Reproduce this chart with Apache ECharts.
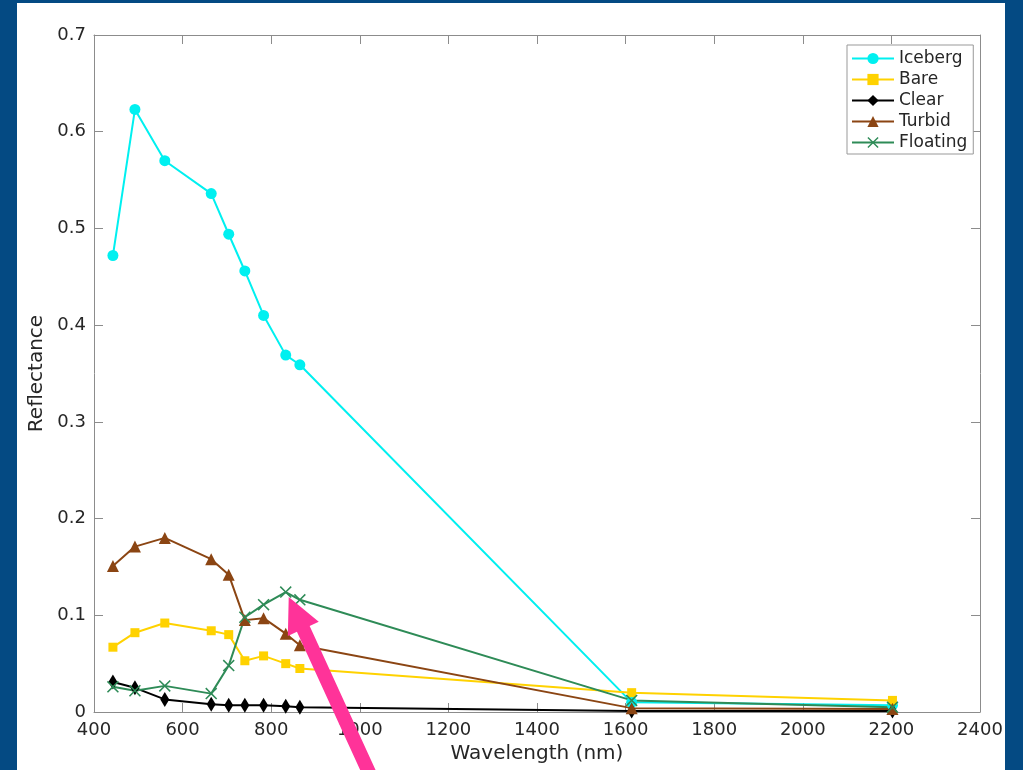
<!DOCTYPE html>
<html>
<head>
<meta charset="utf-8">
<script src="https://cdn.jsdelivr.net/npm/echarts@6/dist/echarts.min.js"></script>
<style>
html,body{margin:0;padding:0;background:#044a83;}
#main{width:1023px;height:770px;}
</style>
</head>
<body>
<div id="main"></div>
<script>
// Wavelengths (nm), Sentinel-2 band centres
const wavelengths = [442.7, 492.4, 559.8, 664.6, 704.1, 740.5, 782.8, 832.8, 864.7, 1613.7, 2202.4];
const iceberg  = [0.472, 0.623, 0.570, 0.536, 0.494, 0.456, 0.410, 0.369, 0.359, 0.010, 0.007];
const bare     = [0.067, 0.082, 0.092, 0.084, 0.080, 0.053, 0.058, 0.050, 0.045, 0.020, 0.012];
const clear    = [0.031, 0.025, 0.013, 0.008, 0.007, 0.007, 0.007, 0.006, 0.005, 0.001, 0.001];
const turbid   = [0.151, 0.171, 0.180, 0.158, 0.142, 0.095, 0.097, 0.081, 0.069, 0.004, 0.003];
const floating = [0.026, 0.022, 0.027, 0.019, 0.048, 0.098, 0.111, 0.124, 0.116, 0.012, 0.005];
const seriesNames = ['Iceberg', 'Bare', 'Clear', 'Turbid', 'Floating'];
const xTicks = [400, 600, 800, 1000, 1200, 1400, 1600, 1800, 2000, 2200, 2400];
const yTicks = [0, 0.1, 0.2, 0.3, 0.4, 0.5, 0.6, 0.7];

const FONT = 'DejaVu Sans';
const TXT = '#262626';
const AX = '#8c8c8c';
const xSym = 'path://M0,9L9,0L50,41L91,0L100,9L59,50L100,91L91,100L50,59L9,100L0,91L41,50Z';

function pairs(vals){ return wavelengths.map((w,i)=>[w, vals[i]]); }

const chart = echarts.init(document.getElementById('main'));

function mkSeries(name, vals, color, symbol, size){
  return {
    name, type:'line', data: pairs(vals), xAxisIndex:0, yAxisIndex:0,
    symbol, symbolSize: size, showAllSymbol:true,
    lineStyle:{color, width:2}, itemStyle:{color},
    emphasis:{disabled:true}, animation:false, clip:false
  };
}

const xCommon = {
  type:'value', min:xTicks[0], max:xTicks[xTicks.length-1], interval:200,
  axisLine:{show:true, onZero:false, lineStyle:{color:AX, width:1}},
  axisTick:{show:true, inside:true, length:9, lineStyle:{color:AX}},
  splitLine:{show:false}
};
const yCommon = {
  type:'value', min:yTicks[0], max:yTicks[yTicks.length-1], interval:0.1,
  axisLine:{show:true, onZero:false, lineStyle:{color:AX, width:1}},
  axisTick:{show:true, inside:true, length:9, lineStyle:{color:AX}},
  splitLine:{show:false}
};

const option = {
  backgroundColor:'#044a83',
  animation:false,
  textStyle:{fontFamily:FONT},
  grid:{left:94, right:43, top:35, bottom:58, containLabel:false},
  legend:{
    orient:'vertical', left:847, top:45,
    data: seriesNames,
    backgroundColor:'#fff', borderColor:'#999', borderWidth:1,
    padding:[5,6,3,4], itemGap:4, itemWidth:42, itemHeight:14,
    textStyle:{fontFamily:FONT, fontSize:17, color:TXT, lineHeight:17},
    selectedMode:false
  },
  xAxis:[
    Object.assign({}, xCommon, {
      position:'bottom',
      name:'Wavelength (nm)', nameLocation:'middle', nameGap:31,
      nameTextStyle:{fontFamily:FONT, fontSize:20, color:TXT},
      axisLabel:{show:true, margin:9, fontFamily:FONT, fontSize:18, color:TXT,
        formatter:v=>String(v)}
    }),
    Object.assign({}, xCommon, {position:'top', axisLabel:{show:false}})
  ],
  yAxis:[
    Object.assign({}, yCommon, {
      position:'left',
      name:'Reflectance', nameLocation:'middle', nameGap:42,
      nameTextStyle:{fontFamily:FONT, fontSize:20, color:TXT},
      axisLabel:{show:true, margin:8, fontFamily:FONT, fontSize:18, color:TXT,
        formatter:v=>(Math.round(v*10)/10).toString()}
    }),
    Object.assign({}, yCommon, {position:'right', axisLabel:{show:false}})
  ],
  graphic:[{
    type:'rect', z:-100, silent:true,
    shape:{x:17, y:3, width:988, height:767},
    style:{fill:'#ffffff'}
  }],
  series:[
    mkSeries('Iceberg', iceberg, '#00f0f0', 'circle', 11),
    mkSeries('Bare', bare, '#ffd200', 'rect', 9),
    mkSeries('Clear', clear, '#000000', 'diamond', [9,15]),
    mkSeries('Turbid', turbid, '#8b4513', 'triangle', 12),
    mkSeries('Floating', floating, '#2e8b57', xSym, 12)
  ]
};
chart.setOption(option);

// Annotation arrow pointing at the Floating peak
const pk = chart.convertToPixel({gridIndex:0}, [wavelengths[7], floating[7]]);
const tip = [pk[0]+3, pk[1]+5];
const d = [0.416, 0.909], p = [0.909, -0.416];
const headLen = 35, headHalf = 17, shaftHalf = 7, shaftLen = 260;
const base = [tip[0]+d[0]*headLen, tip[1]+d[1]*headLen];
const end = [tip[0]+d[0]*shaftLen, tip[1]+d[1]*shaftLen];
const pts = [
  tip,
  [base[0]+p[0]*headHalf, base[1]+p[1]*headHalf],
  [base[0]+p[0]*shaftHalf, base[1]+p[1]*shaftHalf],
  [end[0]+p[0]*shaftHalf, end[1]+p[1]*shaftHalf],
  [end[0]-p[0]*shaftHalf, end[1]-p[1]*shaftHalf],
  [base[0]-p[0]*shaftHalf, base[1]-p[1]*shaftHalf],
  [base[0]-p[0]*headHalf, base[1]-p[1]*headHalf]
];
chart.setOption({graphic:[
  {type:'rect', z:-100, silent:true, shape:{x:17, y:3, width:988, height:767}, style:{fill:'#ffffff'}},
  {type:'polygon', z:1000, silent:true, shape:{points:pts}, style:{fill:'#ff3399'}}
]});
</script>
</body>
</html>
